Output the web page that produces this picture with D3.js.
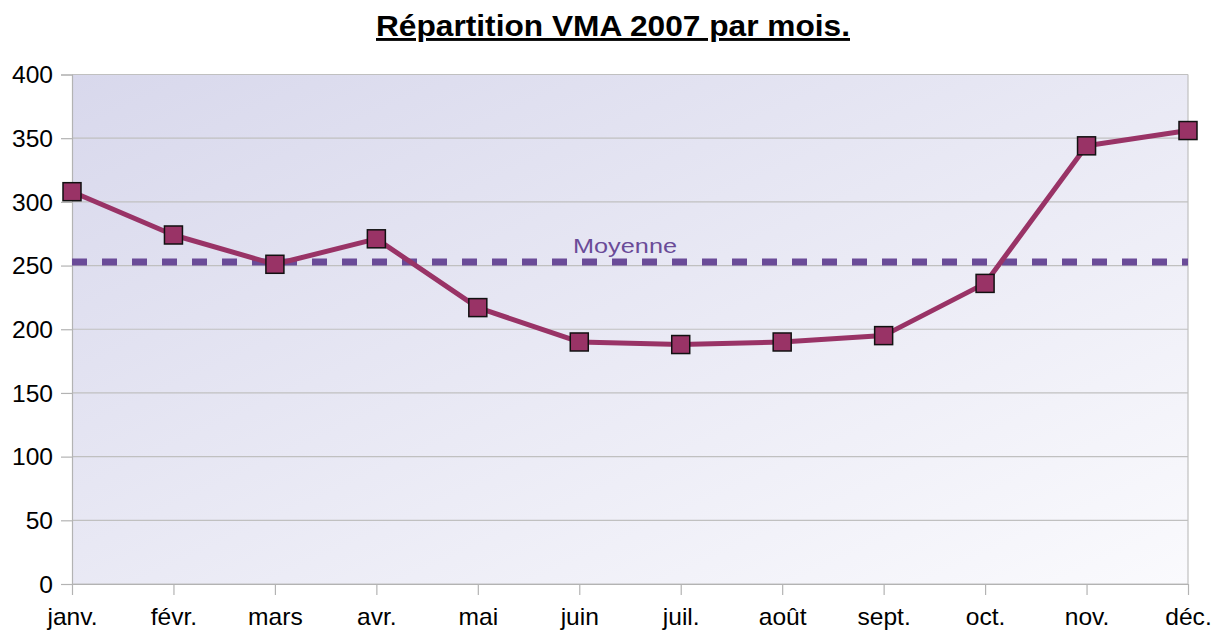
<!DOCTYPE html>
<html><head><meta charset="utf-8">
<script src="https://cdn.jsdelivr.net/npm/d3@7"></script>
<style>body{margin:0;background:#fff}svg{display:block}text{font-family:"Liberation Sans",Arial,sans-serif}</style>
</head><body><svg id="c" width="1214" height="637"></svg>
<script>
const categories = ["janv.","févr.","mars","avr.","mai","juin","juil.","août","sept.","oct.","nov.","déc."];
const values = [308,274,251,271,217,190,188,190,195,236,344,356];
const moyenne = 252.7;
const yTicks = [0,50,100,150,200,250,300,350,400];

const svg = d3.select("#c");
const m = {l:72, r:1188, t:74.5, b:584};
const x = d3.scalePoint().domain(categories).range([m.l, m.r]);
const y = d3.scaleLinear().domain([0,400]).range([m.b, m.t]);
const sx = 1.07;

const defs = svg.append("defs");
const g = defs.append("linearGradient").attr("id","bg").attr("x1","0").attr("y1","0").attr("x2","1").attr("y2","1");
g.append("stop").attr("offset","0").attr("stop-color","#d8d8ec");
g.append("stop").attr("offset","1").attr("stop-color","#fafafd");

svg.append("rect").attr("x",m.l).attr("y",m.t).attr("width",m.r-m.l).attr("height",m.b-m.t).attr("fill","url(#bg)");

svg.append("g").selectAll("line").data(yTicks).join("line")
  .attr("x1",m.l).attr("x2",m.r).attr("y1",d=>y(d)).attr("y2",d=>y(d))
  .attr("stroke","#c0c0c0").attr("stroke-width",1.2);
svg.append("line").attr("x1",m.r).attr("x2",m.r).attr("y1",m.t).attr("y2",m.b).attr("stroke","#c0c0c0").attr("stroke-width",1.2);

const ya = svg.append("g").attr("transform",`translate(${m.l},0)`)
  .call(d3.axisLeft(y).tickValues(yTicks).tickSize(11).tickPadding(8).tickFormat(d3.format("d")));
ya.select(".domain").attr("stroke","#b3b3b3").attr("stroke-width",1.2);
ya.selectAll(".tick line").attr("stroke","#b3b3b3").attr("stroke-width",1.2);
ya.selectAll("text").attr("font-size",23).attr("fill","#000").attr("dy","0.36em")
  .attr("x",-19/sx).attr("transform",`scale(${sx},1)`);

const xa = svg.append("g").attr("transform",`translate(0,${m.b})`)
  .call(d3.axisBottom(x).tickSize(11).tickPadding(14).tickSizeOuter(0));
xa.select(".domain").attr("stroke","#b3b3b3").attr("stroke-width",1.2);
xa.selectAll(".tick line").attr("stroke","#b3b3b3").attr("stroke-width",1.2);
xa.selectAll("text").attr("font-size",23).attr("fill","#000").attr("transform",`scale(${sx},1)`);

svg.append("line").attr("x1",m.l).attr("x2",m.r).attr("y1",y(moyenne)).attr("y2",y(moyenne))
  .attr("stroke","#6a4b98").attr("stroke-width",7).attr("stroke-dasharray","15,15");
svg.append("text").attr("x",573).attr("y",y(moyenne)-9)
  .attr("font-size",21).attr("fill","#6a4b98").attr("textLength",104).attr("lengthAdjust","spacingAndGlyphs").text("Moyenne");

svg.append("path").datum(values)
  .attr("d", d3.line().x((d,i)=>x(categories[i])).y(d=>y(d)))
  .attr("fill","none").attr("stroke","#993366").attr("stroke-width",5).attr("stroke-linejoin","round");
svg.append("g").selectAll("rect").data(values).join("rect")
  .attr("x",(d,i)=>x(categories[i])-9).attr("y",d=>y(d)-9).attr("width",18).attr("height",18)
  .attr("fill","#993366").attr("stroke","#111").attr("stroke-width",1.5);

svg.append("text").attr("x",376).attr("y",36)
  .attr("font-size",29).attr("font-weight","bold").attr("text-decoration","underline").attr("fill","#000")
  .attr("textLength",474).attr("lengthAdjust","spacingAndGlyphs")
  .text("Répartition VMA 2007 par mois.");
</script></body></html>
